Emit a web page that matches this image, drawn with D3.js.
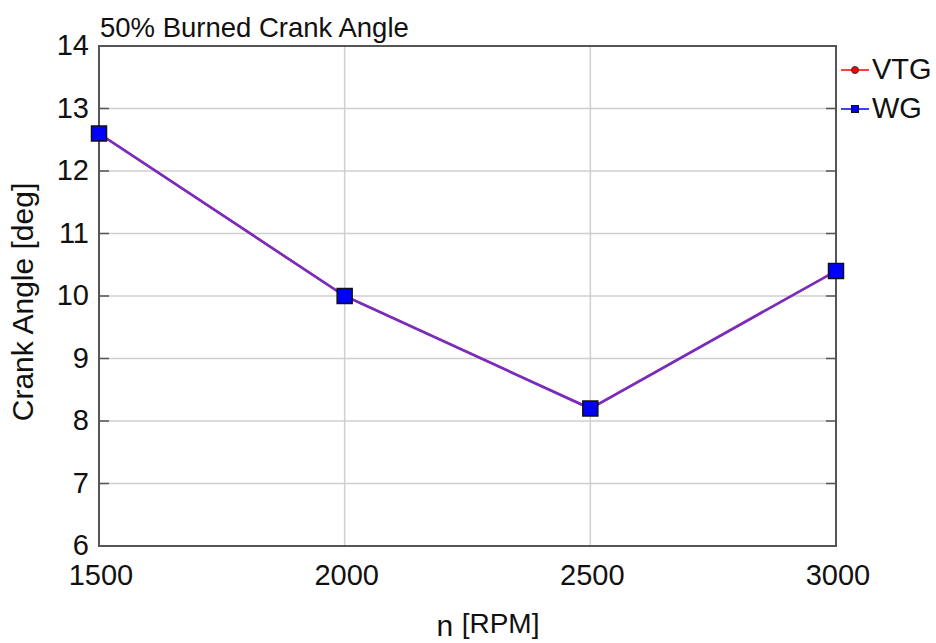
<!DOCTYPE html>
<html>
<head>
<meta charset="utf-8">
<script src="https://cdn.jsdelivr.net/npm/d3@7"></script>
<style>
  html, body { margin: 0; padding: 0; background: #fff; }
  svg { display: block; font-family: "Liberation Sans", Arial, sans-serif; }
</style>
</head>
<body>
<svg id="chart" width="936" height="643"></svg>
<script>
// Engine speed points and 50% burned crank angle for each boost control
const rpm = [1500, 2000, 2500, 3000];
const vtg = [12.6, 10.0, 8.2, 10.4];
const wg = [12.6, 10.0, 8.2, 10.4];
const xTicks = [1500, 2000, 2500, 3000];
const yTicks = [6, 7, 8, 9, 10, 11, 12, 13, 14];

const svg = d3.select("#chart");
const m = { left: 99, right: 836, top: 46, bottom: 546 };

const x = d3.scaleLinear().domain([1500, 3000]).range([m.left, m.right]);
const y = d3.scaleLinear().domain([6, 14]).range([m.bottom, m.top]);

// grid
svg.append("g").selectAll("line").data(xTicks).join("line")
  .attr("x1", d => x(d)).attr("x2", d => x(d))
  .attr("y1", m.top).attr("y2", m.bottom)
  .attr("stroke", "#cfcfcf").attr("stroke-width", 1.5);
svg.append("g").selectAll("line").data(yTicks).join("line")
  .attr("x1", m.left).attr("x2", m.right)
  .attr("y1", d => y(d)).attr("y2", d => y(d))
  .attr("stroke", "#cfcfcf").attr("stroke-width", 1.5);

// inner tick marks on both vertical edges
svg.append("g").selectAll("line").data(yTicks).join("line")
  .attr("x1", m.left).attr("x2", m.left + 10)
  .attr("y1", d => y(d)).attr("y2", d => y(d))
  .attr("stroke", "#555").attr("stroke-width", 1.5);
svg.append("g").selectAll("line").data(yTicks).join("line")
  .attr("x1", m.right).attr("x2", m.right - 10)
  .attr("y1", d => y(d)).attr("y2", d => y(d))
  .attr("stroke", "#555").attr("stroke-width", 1.5);

// frame
svg.append("rect")
  .attr("x", m.left).attr("y", m.top)
  .attr("width", m.right - m.left).attr("height", m.bottom - m.top)
  .attr("fill", "none").attr("stroke", "#555").attr("stroke-width", 2);

// tick labels
svg.append("g").selectAll("text").data(yTicks).join("text")
  .attr("x", 89).attr("y", d => y(d) + 9)
  .attr("text-anchor", "end").attr("font-size", 29).attr("fill", "#111")
  .text(d => d);
svg.append("g").selectAll("text").data(xTicks).join("text")
  .attr("x", d => x(d) + 2).attr("y", 585)
  .attr("text-anchor", "middle").attr("font-size", 29).attr("fill", "#111")
  .text(d => d);

// titles
svg.append("text").attr("x", 100).attr("y", 37)
  .attr("font-size", 27.5).attr("fill", "#111").text("50% Burned Crank Angle");
const xt = svg.append("text").attr("x", 488).attr("y", 636)
  .attr("text-anchor", "middle").attr("fill", "#111");
xt.append("tspan").attr("font-size", 30).text("n ");
xt.append("tspan").attr("font-size", 28).attr("dy", -3).text("[RPM]");
svg.append("text")
  .attr("transform", `translate(33,${(m.top + m.bottom) / 2 + 6}) rotate(-90)`)
  .attr("text-anchor", "middle").attr("font-size", 30).attr("fill", "#111")
  .text("Crank Angle [deg]");

// series: VTG drawn first, WG over it
const line = d3.line().x((d, i) => x(rpm[i])).y(d => y(d));
svg.append("path").datum(vtg).attr("d", line)
  .attr("fill", "none").attr("stroke", "#ff0000").attr("stroke-width", 2.5);
svg.append("path").datum(wg).attr("d", line)
  .attr("fill", "none").attr("stroke", "#4a3cff").attr("stroke-width", 2.5).attr("opacity", 0.78);

svg.append("g").selectAll("circle").data(vtg).join("circle")
  .attr("cx", (d, i) => x(rpm[i])).attr("cy", d => y(d)).attr("r", 4)
  .attr("fill", "#ff0000").attr("stroke", "#333").attr("stroke-width", 1);
const s = 15;
svg.append("g").selectAll("rect").data(wg).join("rect")
  .attr("x", (d, i) => x(rpm[i]) - s / 2).attr("y", d => y(d) - s / 2)
  .attr("width", s).attr("height", s)
  .attr("fill", "#0000ff").attr("stroke", "#111").attr("stroke-width", 1.5);

// legend
const legend = [
  { name: "VTG", color: "#ff0000", shape: "circle" },
  { name: "WG", color: "#0000ff", shape: "square" }
];
const lg = svg.append("g").selectAll("g").data(legend).join("g")
  .attr("transform", (d, i) => `translate(841,${70 + i * 39})`);
lg.append("line").attr("x1", 0).attr("x2", 28).attr("y1", 0).attr("y2", 0)
  .attr("stroke", d => d.color).attr("stroke-width", 1.5);
lg.filter(d => d.shape === "circle").append("circle")
  .attr("cx", 14).attr("cy", 0).attr("r", 3.5)
  .attr("fill", d => d.color).attr("stroke", "#333").attr("stroke-width", 1);
lg.filter(d => d.shape === "square").append("rect")
  .attr("x", 10.5).attr("y", -3.5).attr("width", 7).attr("height", 7)
  .attr("fill", d => d.color).attr("stroke", "#111").attr("stroke-width", 1);
lg.append("text").attr("x", 31).attr("y", 9)
  .attr("font-size", 29).attr("fill", "#111").text(d => d.name);
</script>
</body>
</html>
